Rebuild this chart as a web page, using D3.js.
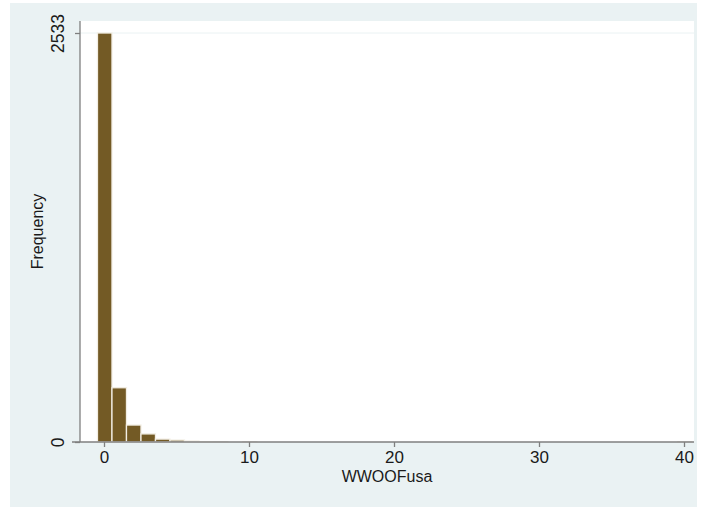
<!DOCTYPE html>
<html>
<head>
<meta charset="utf-8">
<script src="https://cdn.jsdelivr.net/npm/d3@7"></script>
<style>
  body { margin: 0; background: #ffffff; }
  svg { display: block; }
</style>
</head>
<body>
<svg id="chart"></svg>
<script>
// Histogram data (bin value, frequency)
const binValues = [0, 1, 2, 3, 4, 5, 6, 7, 8, 10, 40];
const binCounts = [2533, 336, 105, 50, 18, 12, 6, 2, 1, 1, 1];

// Axis ticks
const xTicks = [0, 10, 20, 30, 40];
const yTicks = [0, 2533];

const xTitle = 'WWOOFusa';
const yTitle = 'Frequency';

const width = 701;
const height = 507;
const plot = { left: 80, right: 694, top: 21, bottom: 442 };
const barColor = '#735a25';
const bgColor = '#eaf2f3';
const axisColor = '#7f7f7f';
const font = '"Liberation Sans", Arial, sans-serif';

const svg = d3.select('#chart')
  .attr('width', width)
  .attr('height', height);

// Graph region
svg.append('rect')
  .attr('x', 10)
  .attr('y', 3)
  .attr('width', 687)
  .attr('height', height - 3)
  .attr('fill', bgColor);

// Plot region
svg.append('rect')
  .attr('x', plot.left)
  .attr('y', plot.top)
  .attr('width', plot.right - plot.left)
  .attr('height', plot.bottom - plot.top)
  .attr('fill', '#ffffff');

// Scales
const xScale = d3.scaleLinear().domain([0, 40]).range([104, 684]);
const yScale = d3.scaleLinear().domain([0, 2533]).range([plot.bottom, 33]);

// Grid line at top tick
svg.append('line')
  .attr('x1', plot.left)
  .attr('x2', plot.right)
  .attr('y1', yScale(2533))
  .attr('y2', yScale(2533))
  .attr('stroke', bgColor)
  .attr('stroke-width', 1);

// Bars
const bins = binValues.map((v, i) => ({ value: v, count: binCounts[i] }));

svg.append('g')
  .selectAll('rect')
  .data(bins)
  .enter()
  .append('rect')
  .attr('x', (d) => xScale(d.value - 0.45))
  .attr('y', (d) => yScale(d.count))
  .attr('width', (d) => xScale(d.value + 0.55) - xScale(d.value - 0.45))
  .attr('height', (d) => yScale(0) - yScale(d.count))
  .attr('fill', barColor)
  .attr('stroke', '#f2eee4')
  .attr('stroke-width', 1.3);

// X axis
const xAxis = svg.append('g')
  .attr('transform', `translate(0,${plot.bottom})`)
  .call(d3.axisBottom(xScale).tickValues(xTicks).tickSize(5).tickPadding(4));

xAxis.select('.domain').remove();
xAxis.append('line')
  .attr('x1', 72)
  .attr('x2', plot.right)
  .attr('stroke', axisColor)
  .attr('stroke-width', 1.3);
xAxis.selectAll('.tick line').attr('stroke', axisColor).attr('stroke-width', 1.3);
xAxis.selectAll('.tick text')
  .attr('fill', '#1a1a1a')
  .attr('font-family', font)
  .attr('font-size', '17px');

// Y axis
const yAxis = svg.append('g')
  .attr('transform', `translate(${plot.left},0)`)
  .call(d3.axisLeft(yScale).tickValues(yTicks).tickSize(5).tickFormat(d3.format('d')));

yAxis.select('.domain').remove();
yAxis.append('line')
  .attr('y1', plot.top)
  .attr('y2', plot.bottom)
  .attr('stroke', axisColor)
  .attr('stroke-width', 1.3);
yAxis.selectAll('.tick line').attr('stroke', axisColor).attr('stroke-width', 1.3);
yAxis.selectAll('.tick text')
  .attr('x', 0)
  .attr('dy', 0)
  .attr('transform', 'translate(-16,0) rotate(-90)')
  .attr('text-anchor', 'middle')
  .attr('fill', '#1a1a1a')
  .attr('font-family', font)
  .attr('font-size', '17.5px');

// Axis titles
svg.append('text')
  .attr('x', (plot.left + plot.right) / 2)
  .attr('y', 482)
  .attr('text-anchor', 'middle')
  .attr('fill', '#1a1a1a')
  .attr('font-family', font)
  .attr('font-size', '16px')
  .text(xTitle);

svg.append('text')
  .attr('transform', `translate(43,${(plot.top + plot.bottom) / 2}) rotate(-90)`)
  .attr('text-anchor', 'middle')
  .attr('fill', '#1a1a1a')
  .attr('font-family', font)
  .attr('font-size', '16px')
  .text(yTitle);
</script>
</body>
</html>
